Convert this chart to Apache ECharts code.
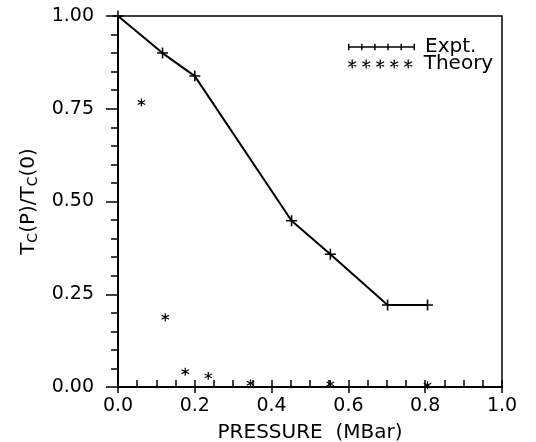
<!DOCTYPE html>
<html>
<head>
<meta charset="UTF-8">
<title>Tc vs pressure</title>
<style>
  html, body { margin: 0; padding: 0; background: #fff; }
  #main { width: 536px; height: 442px; }
</style>
</head>
<body>
<div id="main"></div>
<script src="https://cdn.jsdelivr.net/npm/echarts@6/dist/echarts.min.js"></script>
<script>
// data
var exptP = [0, 0.116, 0.2, 0.452, 0.553, 0.702, 0.806];
var exptT = [1.0, 0.9, 0.838, 0.448, 0.358, 0.221, 0.221];
var theoryP = [0.061, 0.123, 0.175, 0.235, 0.345, 0.553, 0.806];
var theoryT = [0.767, 0.188, 0.041, 0.030, 0.010, 0.008, 0.005];
var xTicks = ['0.0', '0.2', '0.4', '0.6', '0.8', '1.0'];
var yTicks = ['0.00', '0.25', '0.50', '0.75', '1.00'];
var names = ['Expt.', 'Theory'];

var FONT = 'DejaVu Sans';

// plus marker
var plusPath = 'path://M4.3,0H5.7V10H4.3Z M0,4.3H10V5.7H0Z';

// asterisk, all sub-paths wound the same way
function star(dx, dy, s) {
  function p(x, y) { return (dx + x * s).toFixed(2) + ',' + (dy + y * s).toFixed(2); }
  return 'M' + p(4.3, 0) + 'L' + p(5.7, 0) + 'L' + p(5.7, 10) + 'L' + p(4.3, 10) + 'Z' +
    'M' + p(0.32, 3.1) + 'L' + p(1.02, 1.9) + 'L' + p(9.68, 6.9) + 'L' + p(8.98, 8.1) + 'Z' +
    'M' + p(1.02, 8.1) + 'L' + p(0.32, 6.9) + 'L' + p(8.98, 1.9) + 'L' + p(9.68, 3.1) + 'Z';
}
var starPath = 'path://' + star(0, 0, 1);

var legendStars = 'path://';
for (var i = 0; i < 5; i++) legendStars += star(i * 14, 0, 0.9);

var legendPlus = 'path://M0,3.9H65V5.3H0Z';
for (var j = 0; j < 6; j++) {
  var tx = j * 12.72;
  legendPlus += 'M' + tx + ',1.5H' + (tx + 1.4) + 'V7.7H' + tx + 'Z';
}

function pairs(xs, ys) {
  return xs.map(function (x, k) { return [x, ys[k]]; });
}

var legendText = { fontFamily: FONT, fontSize: 20, color: '#000', lineHeight: 18, padding: [0, 0, 0, 5] };

var chart = echarts.init(document.getElementById('main'));

chart.setOption({
  backgroundColor: '#fff',
  animation: false,
  textStyle: { fontFamily: FONT, color: '#000' },
  grid: {
    left: 118, right: 34, top: 16, bottom: 55,
    outerBoundsMode: 'none', containLabel: false,
    show: true, borderColor: '#000', borderWidth: 1.5, backgroundColor: 'transparent'
  },
  legend: [{
    left: 348, top: 37, padding: 0,
    itemWidth: 67, itemHeight: 9,
    textStyle: legendText,
    data: [{ name: names[0], icon: legendPlus }]
  }, {
    left: 348, top: 54, padding: 0,
    itemWidth: 67, itemHeight: 9,
    textStyle: legendText,
    data: [{ name: names[1], icon: legendStars }]
  }],
  xAxis: [{
    type: 'value', min: 0, max: 1, interval: 0.2,
    name: 'PRESSURE  (MBar)', nameLocation: 'middle', nameGap: 36,
    nameTextStyle: { fontFamily: FONT, fontSize: 20, color: '#000' },
    axisLine: { onZero: false, lineStyle: { color: '#000', width: 2 } },
    axisTick: { inside: true, length: 7, lineStyle: { color: '#000', width: 1.5 } },
    minorTick: { show: true, splitNumber: 4, length: 7, lineStyle: { color: '#000', width: 1.5 } },
    axisLabel: {
      margin: 10, fontSize: 19, color: '#000', fontFamily: FONT,
      formatter: function (v) { return xTicks[Math.round(v / 0.2)]; }
    },
    splitLine: { show: false }
  }, {
    // outer halves of the major x ticks
    type: 'value', min: 0, max: 1, interval: 0.2, position: 'bottom',
    axisLine: { show: false },
    axisTick: { inside: false, length: 6, lineStyle: { color: '#000', width: 1.5 } },
    axisLabel: { show: false },
    splitLine: { show: false }
  }],
  yAxis: {
    type: 'value', min: 0, max: 1, interval: 0.25,
    name: '{n|T}{s|C}{n|(P)/T}{s|C}{n|(0)}',
    nameLocation: 'middle', nameGap: 78, nameRotate: 90,
    nameTextStyle: {
      rich: {
        n: { fontFamily: FONT, fontSize: 20, color: '#000' },
        s: { fontFamily: FONT, fontSize: 14, color: '#000', verticalAlign: 'bottom', padding: [9, 0, 0, 0] }
      }
    },
    axisLine: { onZero: false, lineStyle: { color: '#000', width: 2 } },
    axisTick: { inside: false, length: 12, lineStyle: { color: '#000', width: 1.5 } },
    minorTick: { show: true, splitNumber: 5, length: 7, lineStyle: { color: '#000', width: 1.5 } },
    axisLabel: {
      margin: 24, fontSize: 19, color: '#000', fontFamily: FONT,
      formatter: function (v) { return yTicks[Math.round(v / 0.25)]; }
    },
    splitLine: { show: false }
  },
  series: [{
    name: names[0],
    type: 'line',
    data: pairs(exptP, exptT),
    symbol: plusPath, symbolSize: 11,
    showAllSymbol: true,
    itemStyle: { color: '#000' },
    lineStyle: { color: '#000', width: 2 },
    z: 3
  }, {
    name: names[1],
    type: 'scatter',
    data: pairs(theoryP, theoryT),
    symbol: starPath, symbolSize: 8,
    itemStyle: { color: '#000', opacity: 1 },
    z: 3
  }]
});
</script>
</body>
</html>
